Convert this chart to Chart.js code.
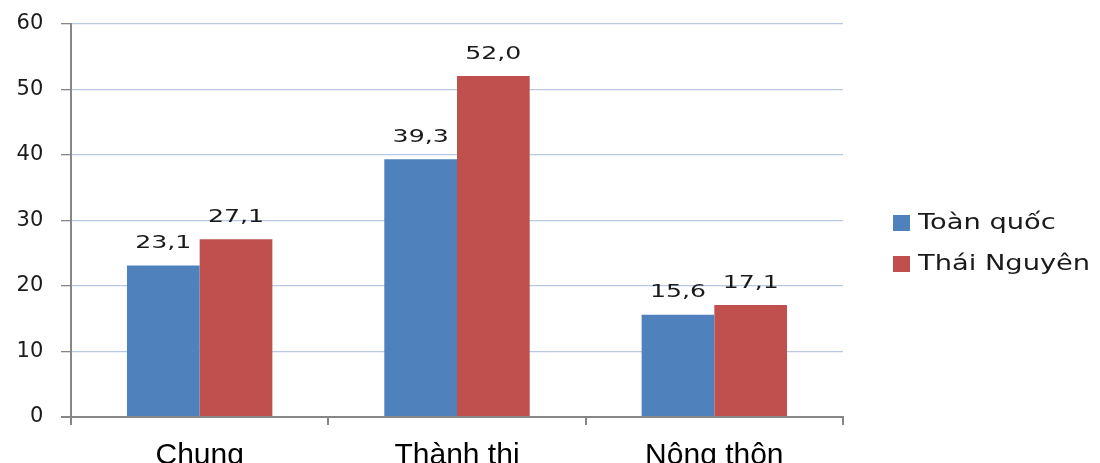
<!DOCTYPE html>
<html>
<head>
<meta charset="utf-8">
<script src="https://cdn.jsdelivr.net/npm/chart.js@4"></script>
<style>
  html, body { margin: 0; padding: 0; background: #ffffff; }
  #wrap { width: 1100px; height: 463px; }
</style>
</head>
<body>
<div id="wrap"><canvas id="chart" width="1100" height="463"></canvas></div>
<script>
// Dữ liệu
const categories = ['Chung', 'Thành thị', 'Nông thôn'];
const seriesNames = ['Toàn quốc', 'Thái Nguyên'];
const toanQuoc = [23.1, 39.3, 15.6];
const thaiNguyen = [27.1, 52.0, 17.1];
const yTicks = [0, 10, 20, 30, 40, 50, 60];
const colors = ['#4f81bd', '#c0504d'];

const axisGray = '#868686';
const gridBlue = '#b9c8e5';

// vẽ chữ kéo giãn theo chiều ngang (ảnh gốc bị giãn)
function stretchedText(ctx, text, x, y, sx, align) {
  ctx.save();
  ctx.translate(x, y);
  ctx.scale(sx, 1);
  ctx.textAlign = align;
  ctx.fillText(text, 0, 0);
  ctx.restore();
}

// nhãn số liệu trên đầu cột
const valueLabels = {
  id: 'valueLabels',
  afterDatasetsDraw(chart) {
    const ctx = chart.ctx;
    ctx.save();
    ctx.font = '18px "DejaVu Sans"';
    ctx.fillStyle = '#1a1a1a';
    ctx.textBaseline = 'middle';
    chart.data.datasets.forEach((ds, i) => {
      chart.getDatasetMeta(i).data.forEach((bar, j) => {
        const txt = ds.data[j].toFixed(1).replace('.', ',');
        stretchedText(ctx, txt, bar.x, bar.y - 22, 1.4, 'center');
      });
    });
    ctx.restore();
  }
};

// chú thích bên phải
const sideLegend = {
  id: 'sideLegend',
  afterDraw(chart) {
    const ctx = chart.ctx;
    ctx.save();
    ctx.font = '22px "DejaVu Sans"';
    ctx.textBaseline = 'middle';
    chart.data.datasets.forEach((ds, i) => {
      const y = 223 + i * 41;
      ctx.fillStyle = ds.backgroundColor;
      ctx.fillRect(893, y - 8, 17, 16);
      ctx.fillStyle = '#1a1a1a';
      stretchedText(ctx, ds.label, 918, y, 1.24, 'left');
    });
    ctx.restore();
  }
};

new Chart(document.getElementById('chart'), {
  type: 'bar',
  data: {
    labels: categories,
    datasets: [
      { label: seriesNames[0], data: toanQuoc, backgroundColor: colors[0] },
      { label: seriesNames[1], data: thaiNguyen, backgroundColor: colors[1] }
    ]
  },
  options: {
    responsive: false,
    animation: false,
    devicePixelRatio: 1,
    layout: { padding: { top: 23, right: 257, left: 0, bottom: 0 } },
    categoryPercentage: 0.565,
    barPercentage: 1.0,
    plugins: {
      legend: { display: false },
      tooltip: { enabled: false }
    },
    scales: {
      x: {
        afterFit(scale) { scale.height = 46; },
        grid: {
          offset: true,
          drawOnChartArea: false,
          color: axisGray,
          tickColor: axisGray,
          tickLength: 8,
          lineWidth: 2
        },
        border: { color: axisGray, width: 2 },
        ticks: {
          color: '#000000',
          font: { family: 'Liberation Sans', size: 30 },
          padding: 13,
          maxRotation: 0
        }
      },
      y: {
        min: 0,
        max: 60,
        afterFit(scale) { scale.width = 71; },
        afterBuildTicks(scale) { scale.ticks = yTicks.map(v => ({ value: v })); },
        grid: {
          color: (c) => c.tick && c.tick.value === 0 ? axisGray : gridBlue,
          tickColor: axisGray,
          tickLength: 10,
          lineWidth: (c) => c.tick && c.tick.value === 0 ? 2 : 1.3
        },
        border: { color: axisGray, width: 2 },
        ticks: {
          color: '#1a1a1a',
          font: { family: 'DejaVu Sans', size: 21 },
          padding: 11,
          callback: (v) => v + ' '
        }
      }
    }
  },
  plugins: [valueLabels, sideLegend]
});
</script>
</body>
</html>
